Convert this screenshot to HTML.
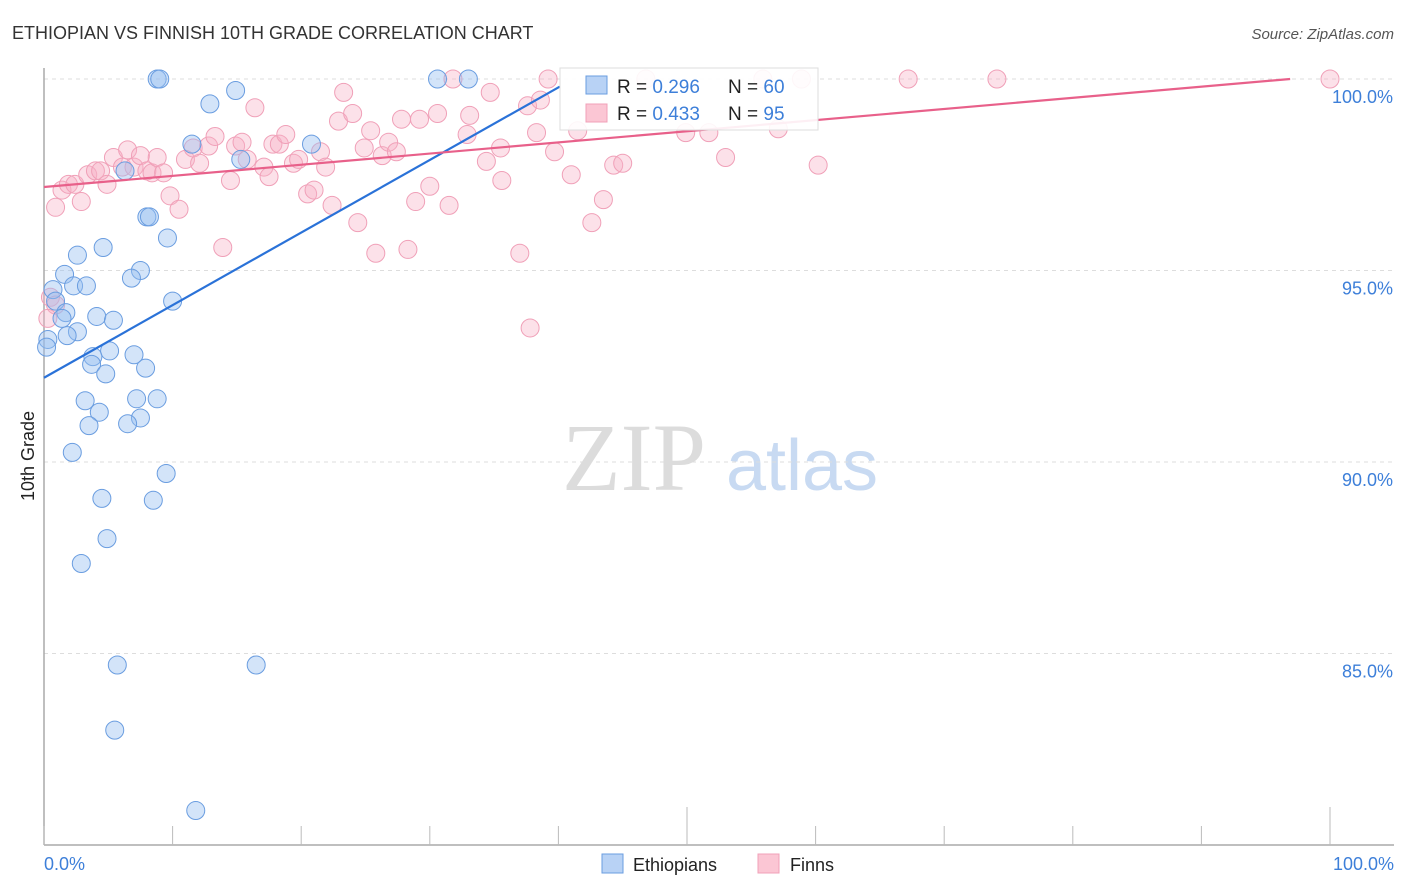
<!DOCTYPE html>
<html><head><meta charset="utf-8"><style>
body{margin:0;background:#fff;font-family:"Liberation Sans",sans-serif}
svg{display:block}
</style></head><body>
<svg id="chart" width="1406" height="892">
<text x="12" y="39" font-size="18" fill="#333">ETHIOPIAN VS FINNISH 10TH GRADE CORRELATION CHART</text>
<text x="1394" y="39" font-size="15" fill="#555" font-style="italic" text-anchor="end">Source: ZipAtlas.com</text>
<text transform="translate(34,456) rotate(-90)" font-size="18" fill="#222" text-anchor="middle">10th Grade</text>
<g>
<text x="634" y="490" font-size="96" font-family="Liberation Serif,serif" fill="#dcdcdc" text-anchor="middle">ZIP</text>
<text x="802" y="490" font-size="72" fill="#c8daf2" text-anchor="middle">atlas</text>
</g>
<g id="grid"></g>
<g id="axes"></g>
<g id="pts"></g>
<g id="lines"></g>
<g>
<rect x="560" y="68" width="258" height="62" fill="#fff" fill-opacity="0.9" stroke="#ddd"/>
<rect x="586" y="76" width="21" height="18" fill="#b8d2f5" stroke="#6a9de0"/>
<rect x="586" y="104" width="21" height="18" fill="#fbc6d4" stroke="#f0a0b8"/>
<text x="617" y="93" font-size="19" fill="#222">R = <tspan fill="#3d7fd9">0.296</tspan><tspan x="728">N = </tspan><tspan fill="#3d7fd9">60</tspan></text>
<text x="617" y="120" font-size="19" fill="#222">R = <tspan fill="#3d7fd9">0.433</tspan><tspan x="728">N = </tspan><tspan fill="#3d7fd9"> 95</tspan></text>
</g>
<g>
<rect x="602" y="854" width="21" height="19" fill="#b8d2f5" stroke="#6a9de0"/>
<text x="633" y="871" font-size="18" fill="#222">Ethiopians</text>
<rect x="758" y="854" width="21" height="19" fill="#fbc6d4" stroke="#f0a0b8"/>
<text x="790" y="871" font-size="18" fill="#222">Finns</text>
</g>
<text x="44" y="870" font-size="18" fill="#3d7fd9">0.0%</text>
<text x="1394" y="870" font-size="18" fill="#3d7fd9" text-anchor="end">100.0%</text>
</svg>
<script>
const yTicks=[100,95,90,85];
const blueX=[8.8,9.0,30.6,33.0,14.9,12.9,11.5,20.8,15.3,6.3,8.0,8.2,9.6,4.6,2.6,7.5,1.6,6.8,2.3,3.3,0.7,10.0,0.9,1.7,4.1,5.4,1.4,2.6,1.8,0.3,0.2,5.1,3.8,7.0,3.7,7.9,4.8,3.2,7.2,8.8,4.3,7.5,3.5,6.5,2.2,9.5,4.5,8.5,4.9,2.9,5.7,16.5,5.5,11.8];
const blueY=[100,100,100,100,99.7,99.35,98.3,98.3,97.9,97.6,96.4,96.4,95.85,95.6,95.4,95.0,94.9,94.8,94.6,94.6,94.5,94.2,94.2,93.9,93.8,93.7,93.75,93.4,93.3,93.2,93.0,92.9,92.75,92.8,92.55,92.45,92.3,91.6,91.65,91.65,91.3,91.15,90.95,91.0,90.25,89.7,89.05,89.0,88.0,87.35,84.7,84.7,83.0,80.9];
const pinkX=[0.9,1.4,1.9,2.4,2.9,3.4,4.0,4.4,4.9,5.4,6.1,6.5,7.0,7.5,8.0,8.4,8.8,9.3,9.8,10.5,11.0,11.6,12.1,12.8,13.3,13.9,14.5,14.9,15.4,15.8,16.4,17.1,17.5,17.8,18.3,18.8,19.4,19.8,20.5,21.0,21.5,21.9,22.4,22.9,23.3,24.0,24.4,24.9,25.4,25.8,26.3,26.8,27.4,27.8,28.3,28.9,29.2,30.0,30.6,31.5,31.8,32.9,33.1,34.4,34.7,35.5,35.6,37.0,37.6,37.8,38.3,38.6,39.2,39.7,41.0,41.5,42.6,43.5,44.3,45.0,46.8,49.9,51.7,53.0,55.9,57.1,58.9,60.2,67.2,74.1,100,0.5,0.9,0.3];
const pinkY=[96.65,97.1,97.25,97.25,96.8,97.5,97.6,97.6,97.25,97.95,97.7,98.15,97.7,98.0,97.6,97.55,97.95,97.55,96.95,96.6,97.9,98.2,97.8,98.25,98.5,95.6,97.35,98.25,98.35,97.9,99.25,97.7,97.45,98.3,98.3,98.55,97.8,97.9,97.0,97.1,98.1,97.7,96.7,98.9,99.65,99.1,96.25,98.2,98.65,95.45,98.0,98.35,98.1,98.95,95.55,96.8,98.95,97.2,99.1,96.7,100,98.55,99.05,97.85,99.65,98.2,97.35,95.45,99.3,93.5,98.6,99.45,100,98.1,97.5,98.65,96.25,96.85,97.75,97.8,100,98.6,98.6,97.95,100,98.7,100,97.75,100,100,100,94.3,94.1,93.75];
const blueLine=[[0,92.2],[40.1,99.8]];
const pinkLine=[[0,97.18],[96.9,100]];
const NS='http://www.w3.org/2000/svg';
const X=v=>44+v*12.86;
const Y=v=>79+(100-v)*38.3;
function mk(t,a,p){const e=document.createElementNS(NS,t);for(const k in a)e.setAttribute(k,a[k]);p.appendChild(e);return e;}
const grid=document.getElementById('grid'),axes=document.getElementById('axes'),pts=document.getElementById('pts'),lines=document.getElementById('lines');
yTicks.forEach(t=>{
 const l=mk('line',{x1:44,x2:1394,y1:Y(t),y2:Y(t),stroke:'#ddd','stroke-dasharray':'4,4'},grid);
 
 
 const tx=mk('text',{x:1393,y:Y(t)+24,'font-size':18,fill:'#3d7fd9','text-anchor':'end'},grid);
 tx.textContent=t.toFixed(1)+'%';
 
 
});
const ax=mk('line',{x1:44,x2:1394,y1:845,y2:845,stroke:'#aaa','stroke-width':1.5},axes);


const ay=mk('line',{x1:44,x2:44,y1:68,y2:845,stroke:'#aaa','stroke-width':1.5},axes);


for(let i=0;i<=10;i++){
 const tk=mk('line',{x1:X(i*10),x2:X(i*10),y1:(i==5||i==10)?807:826,y2:845,stroke:'#bbb'},axes);
 
 
}
pinkX.forEach((x,i)=>{
 const c=mk('circle',{cx:X(x),cy:Y(pinkY[i]),r:9,fill:'rgba(248,175,198,0.38)',stroke:'#f0a0b8','stroke-width':1},pts);
 
 
});
blueX.forEach((x,i)=>{
 const c=mk('circle',{cx:X(x),cy:Y(blueY[i]),r:9,fill:'rgba(150,190,240,0.42)',stroke:'#6a9de0','stroke-width':1},pts);
 
 
});
const bl=mk('line',{x1:X(blueLine[0][0]),y1:Y(blueLine[0][1]),x2:X(blueLine[1][0]),y2:Y(blueLine[1][1]),stroke:'#2a72d8','stroke-width':2.2},lines);


const pl=mk('line',{x1:X(pinkLine[0][0]),y1:Y(pinkLine[0][1]),x2:X(pinkLine[1][0]),y2:Y(pinkLine[1][1]),stroke:'#e8608a','stroke-width':2.2},lines);


</script>
</body></html>
